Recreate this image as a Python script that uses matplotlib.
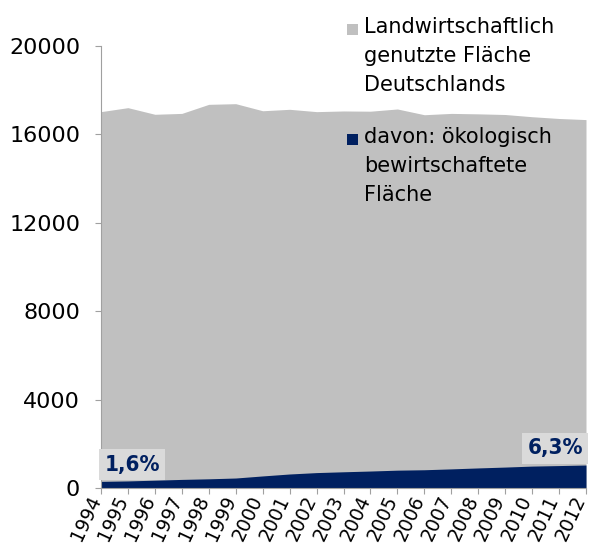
import matplotlib
matplotlib.use("Agg")
import matplotlib.pyplot as plt
from matplotlib.patches import Rectangle
from matplotlib.transforms import ScaledTranslation

years = [1994, 1995, 1996, 1997, 1998, 1999, 2000, 2001, 2002, 2003, 2004,
         2005, 2006, 2007, 2008, 2009, 2010, 2011, 2012]
total = [17030, 17210, 16910, 16950, 17360, 17390, 17070, 17135, 17030, 17060,
         17050, 17150, 16890, 16950, 16930, 16900, 16800, 16720, 16670]
organic = [300, 320, 354, 389, 416, 452, 546, 634, 697, 734, 768,
           807, 826, 865, 908, 947, 991, 1015, 1040]
yticks = [0, 4000, 8000, 12000, 16000, 20000]
label_first = "1,6%"
label_last = "6,3%"
legend_labels = ["Landwirtschaftlich\ngenutzte Fläche\nDeutschlands",
                 "davon: ökologisch\nbewirtschaftete\nFläche"]

gray = "#c0c0c0"
navy = "#002060"
W, H = 591, 556

fig = plt.figure(figsize=(W / 100, H / 100), dpi=100)
ax = fig.add_axes([101 / W, 68 / H, 485 / W, 442 / H])

ax.fill_between(years, 0, total, color=gray, linewidth=0)
ax.fill_between(years, 0, organic, color=navy, linewidth=0)

ax.set_xlim(years[0], years[-1])
ax.set_ylim(0, 20000)
ax.set_yticks(yticks)
ax.set_yticklabels([str(v) for v in yticks], fontsize=16)
ax.set_xticks(years)
for s in ["top", "right"]:
    ax.spines[s].set_visible(False)
for s in ["left", "bottom"]:
    ax.spines[s].set_color("#a0a0a0")
ax.tick_params(axis="both", colors="#a0a0a0", labelcolor="black", length=4)
ax.tick_params(axis="y", pad=11)
ax.tick_params(axis="x", pad=2)
ax.set_xticklabels([str(y) for y in years], rotation=65, fontsize=13.5,
                   ha="right", va="center", rotation_mode="anchor")
shift = ScaledTranslation(-5 / 100, 0, fig.dpi_scale_trans)
for lbl in ax.get_xticklabels():
    lbl.set_transform(lbl.get_transform() + shift)

box = dict(boxstyle="square,pad=0.25", fc="#dadada", ec="none")
ax.text(years[0] + 0.12, organic[0] + 300, label_first, fontsize=16,
        fontweight="bold", fontstretch="condensed", color=navy,
        ha="left", va="bottom", bbox=box)
ax.text(years[-1] - 0.12, organic[-1] + 300, label_last, fontsize=16,
        fontweight="bold", fontstretch="condensed", color=navy,
        ha="right", va="bottom", bbox=box)

# legend drawn as figure texts with square markers
leg_x_box = 347
leg_x_text = 364
entries = [(legend_labels[0], gray, 29), (legend_labels[1], navy, 139)]
for lab, col, ytop in entries:
    fig.patches.append(Rectangle((leg_x_box / W, 1 - (ytop + 6) / H),
                                 11 / W, 11 / H, transform=fig.transFigure,
                                 facecolor=col, edgecolor="none"))
    fig.text(leg_x_text / W, 1 - (ytop - 12) / H, lab, fontsize=15,
             ha="left", va="top", linespacing=1.55, color="black")

fig.savefig("out.png", dpi=100)
